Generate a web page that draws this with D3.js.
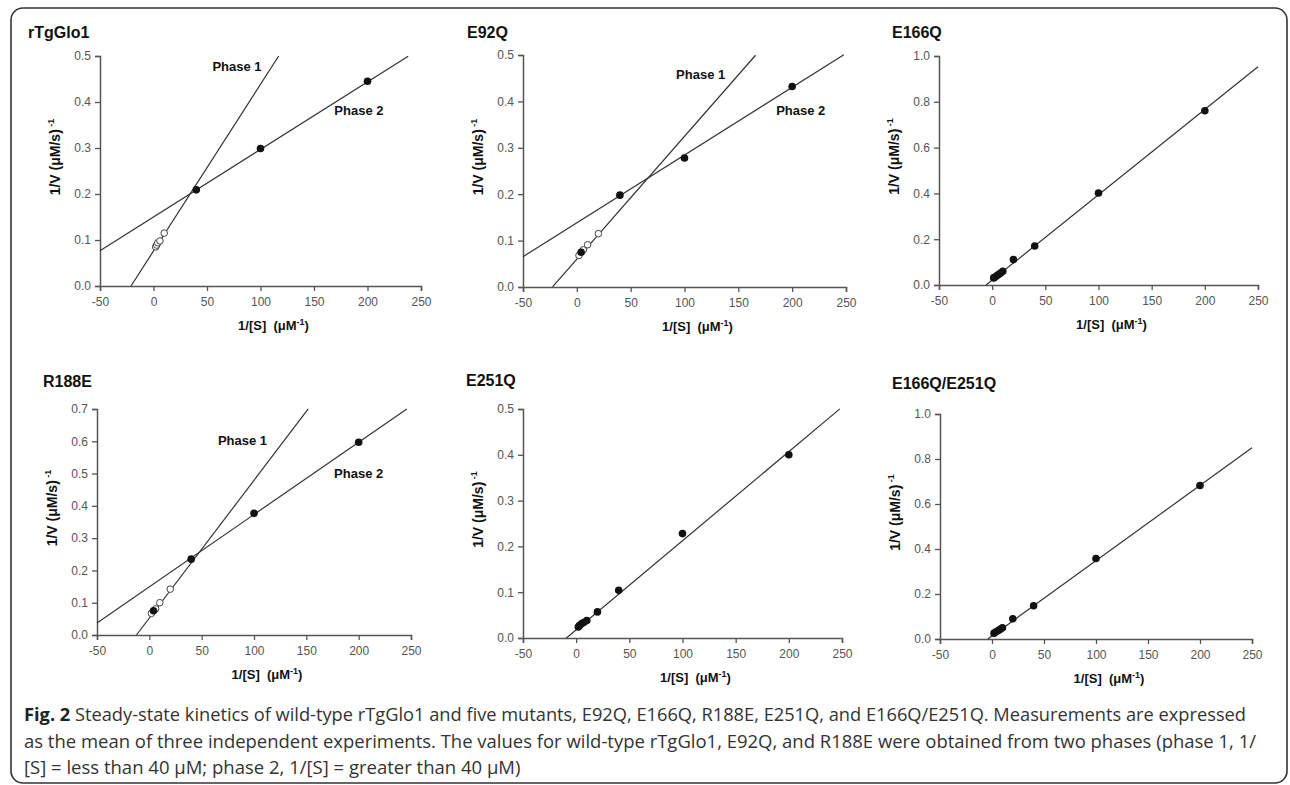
<!DOCTYPE html>
<html>
<head>
<meta charset="utf-8">
<script src="https://cdn.jsdelivr.net/npm/d3@7"></script>
<style>
  body { margin: 0; background: #fff; }
  svg { display: block; }
</style>
</head>
<body>
<div id="chart"></div>
<script>
// x ticks shared by all six panels
const xTicks = [-50, 0, 50, 100, 150, 200, 250];
const yTicksHalf = [0, 0.1, 0.2, 0.3, 0.4, 0.5];
const yTicksR188E = [0, 0.1, 0.2, 0.3, 0.4, 0.5, 0.6, 0.7];
const yTicksOne = [0, 0.2, 0.4, 0.6, 0.8, 1.0];

// rTgGlo1 (wild type)
const wtOpen = [[2, 0.085], [3, 0.089], [4, 0.094], [6, 0.098], [10, 0.115]];
const wtFilled = [[40, 0.209], [100, 0.299], [200, 0.445]];
const wtFits = [
  { name: "Phase 1", slope: 0.003623, intercept: 0.0761, from: -21, to: 117 },
  { name: "Phase 2", slope: 0.001469, intercept: 0.150, from: -50, to: 238 }
];

// E92Q
const e92qOpen = [[2, 0.068], [6, 0.080], [10, 0.091], [20, 0.115]];
const e92qFilled = [[4, 0.075], [40, 0.198], [100, 0.278], [200, 0.432]];
const e92qFits = [
  { name: "Phase 1", slope: 0.002648, intercept: 0.0599, from: -22.6, to: 166 },
  { name: "Phase 2", slope: 0.00146, intercept: 0.1383, from: -50, to: 248 }
];

// E166Q
const e166qFilled = [[1.5, 0.031], [2, 0.033], [4, 0.039], [6, 0.046], [8, 0.052], [10, 0.060],
  [20, 0.111], [40, 0.170], [100, 0.402], [200, 0.761]];
const e166qFits = [{ slope: 0.003726, intercept: 0.0216, from: -5.8, to: 250 }];

// R188E
const r188eOpen = [[2, 0.067], [6, 0.081], [10, 0.100], [20, 0.142]];
const r188eFilled = [[4, 0.075], [40, 0.235], [100, 0.377], [200, 0.597]];
const r188eFits = [
  { name: "Phase 1", slope: 0.004266, intercept: 0.0525, from: -12.3, to: 151.8 },
  { name: "Phase 2", slope: 0.00224, intercept: 0.1492, from: -50, to: 246 }
];

// E251Q
const e251qFilled = [[2, 0.024], [3, 0.027], [5, 0.031], [7, 0.034], [10, 0.038],
  [20, 0.057], [40, 0.104], [100, 0.228], [200, 0.400]];
const e251qFits = [{ slope: 0.001945, intercept: 0.0179, from: -9.2, to: 248 }];

// E166Q/E251Q
const dblFilled = [[2, 0.026], [4, 0.032], [6, 0.038], [8, 0.043], [10, 0.050],
  [20, 0.090], [40, 0.148], [100, 0.358], [200, 0.682]];
const dblFits = [{ slope: 0.003346, intercept: 0.0134, from: -4, to: 250 }];

const panels = [
  { title: "rTgGlo1", tx: 28, ty: 38, box: [100, 421, 56, 286], yMax: 0.5, yTicks: yTicksHalf,
    open: wtOpen, filled: wtFilled, fits: wtFits,
    labels: [["Phase 1", 78, 0.477], ["Phase 2", 192, 0.381]] },
  { title: "E92Q", tx: 467, ty: 38, box: [523, 846, 55, 287], yMax: 0.5, yTicks: yTicksHalf,
    open: e92qOpen, filled: e92qFilled, fits: e92qFits,
    labels: [["Phase 1", 115, 0.459], ["Phase 2", 208, 0.381]] },
  { title: "E166Q", tx: 892, ty: 38, box: [939, 1258, 56, 285], yMax: 1.0, yTicks: yTicksOne,
    open: [], filled: e166qFilled, fits: e166qFits, labels: [] },
  { title: "R188E", tx: 43, ty: 387, box: [97, 411, 409, 635], yMax: 0.7, yTicks: yTicksR188E,
    open: r188eOpen, filled: r188eFilled, fits: r188eFits,
    labels: [["Phase 1", 89, 0.602], ["Phase 2", 200, 0.5]] },
  { title: "E251Q", tx: 466, ty: 386, box: [523, 842, 409, 638], yMax: 0.5, yTicks: yTicksHalf,
    open: [], filled: e251qFilled, fits: e251qFits, labels: [] },
  { title: "E166Q/E251Q", tx: 892, ty: 389, box: [940, 1252, 414, 639], yMax: 1.0, yTicks: yTicksOne,
    open: [], filled: dblFilled, fits: dblFits, labels: [] }
];

const captionLines = [
  { bold: "Fig. 2", rest: " Steady-state kinetics of wild-type rTgGlo1 and five mutants, E92Q, E166Q, R188E, E251Q, and E166Q/E251Q. Measurements are expressed", width: 1222 },
  { bold: "", rest: "as the mean of three independent experiments. The values for wild-type rTgGlo1, E92Q, and R188E were obtained from two phases (phase 1, 1/", width: 1232 },
  { bold: "", rest: "[S] = less than 40 \u03bcM; phase 2, 1/[S] = greater than 40 \u03bcM)", width: null }
];

const width = 1290;
const height = 785;
const font = "'Liberation Sans', Arial, sans-serif";

const svg = d3.select("#chart").append("svg")
  .attr("width", width)
  .attr("height", height);

// outer frame
svg.append("rect")
  .attr("x", 11).attr("y", 8)
  .attr("width", 1276).attr("height", 775)
  .attr("rx", 12).attr("ry", 12)
  .attr("fill", "none")
  .attr("stroke", "#333")
  .attr("stroke-width", 1.6);

panels.forEach((p) => {
  const [x0, x1, y0, y1] = p.box;
  const x = d3.scaleLinear().domain([-50, 250]).range([x0, x1]);
  const y = d3.scaleLinear().domain([0, p.yMax]).range([y1, y0]);
  const g = svg.append("g").attr("font-family", font);

  // panel title
  g.append("text")
    .attr("x", p.tx).attr("y", p.ty)
    .attr("font-size", 16).attr("font-weight", "bold")
    .attr("fill", "#111")
    .text(p.title);

  // axes
  const xAxis = g.append("g")
    .attr("transform", `translate(0, ${y1})`)
    .call(d3.axisBottom(x).tickValues(xTicks).tickFormat((d) => String(d))
      .tickSizeOuter(0).tickSize(5).tickPadding(6));
  const yAxis = g.append("g")
    .attr("transform", `translate(${x0}, 0)`)
    .call(d3.axisLeft(y).tickValues(p.yTicks).tickFormat(d3.format(".1f"))
      .tickSizeOuter(0).tickSize(5).tickPadding(4));
  [xAxis, yAxis].forEach((a) => {
    a.select(".domain").attr("stroke", "#555").attr("stroke-width", 1.5);
    a.selectAll(".tick line").attr("stroke", "#555").attr("stroke-width", 1.3);
    a.selectAll(".tick text")
      .attr("font-family", font).attr("font-size", 12).attr("fill", "#555");
  });

  // axis titles
  const xl = g.append("text")
    .attr("x", (x0 + x1) / 2 + 13).attr("y", y1 + 44)
    .attr("text-anchor", "middle")
    .attr("font-size", 13).attr("font-weight", "bold").attr("fill", "#111");
  xl.append("tspan").text("1/[S]\u00a0\u00a0(\u03bcM");
  xl.append("tspan").attr("font-size", 9).attr("dy", -5).text("-1");
  xl.append("tspan").attr("dy", 5).text(")");

  const yl = g.append("text")
    .attr("transform", `translate(${x0 - 40}, ${(y0 + y1) / 2 - 14}) rotate(-90)`)
    .attr("text-anchor", "middle")
    .attr("font-size", 14).attr("font-weight", "bold").attr("fill", "#111");
  yl.append("tspan").text("1/V (\u03bcM/s)");
  yl.append("tspan").attr("font-size", 9).attr("dy", -6).text(" -1");

  // fitted lines
  const line = d3.line().x((d) => x(d[0])).y((d) => y(d[1]));
  p.fits.forEach((f) => {
    const ends = [f.from, f.to].map((v) => [v, f.slope * v + f.intercept]);
    g.append("path")
      .datum(ends)
      .attr("fill", "none")
      .attr("stroke", "#333")
      .attr("stroke-width", 1.2)
      .attr("d", line);
  });

  // open markers (phase 1)
  g.selectAll(".open")
    .data(p.open)
    .join("circle")
    .attr("cx", (d) => x(d[0]))
    .attr("cy", (d) => y(d[1]))
    .attr("r", 3.3)
    .attr("fill", "#fff")
    .attr("stroke", "#444")
    .attr("stroke-width", 1);

  // filled markers
  g.selectAll(".filled")
    .data(p.filled)
    .join("circle")
    .attr("cx", (d) => x(d[0]))
    .attr("cy", (d) => y(d[1]))
    .attr("r", 3.8)
    .attr("fill", "#111");

  // phase labels
  p.labels.forEach(([t, lx, ly]) => {
    g.append("text")
      .attr("x", x(lx)).attr("y", y(ly))
      .attr("dy", "0.35em")
      .attr("text-anchor", "middle")
      .attr("font-size", 13).attr("font-weight", "bold").attr("fill", "#111")
      .text(t);
  });
});

// caption
captionLines.forEach((c, i) => {
  const t = svg.append("text")
    .attr("x", 24).attr("y", 721 + i * 26.5)
    .attr("font-family", "'Open Sans', 'Noto Sans', sans-serif")
    .attr("font-size", 18.5)
    .attr("fill", "#333");
  if (c.width) t.attr("textLength", c.width).attr("lengthAdjust", "spacingAndGlyphs");
  if (c.bold) t.append("tspan").attr("font-weight", "bold").attr("fill", "#222").text(c.bold);
  t.append("tspan").text(c.rest);
});
</script>
</body>
</html>
